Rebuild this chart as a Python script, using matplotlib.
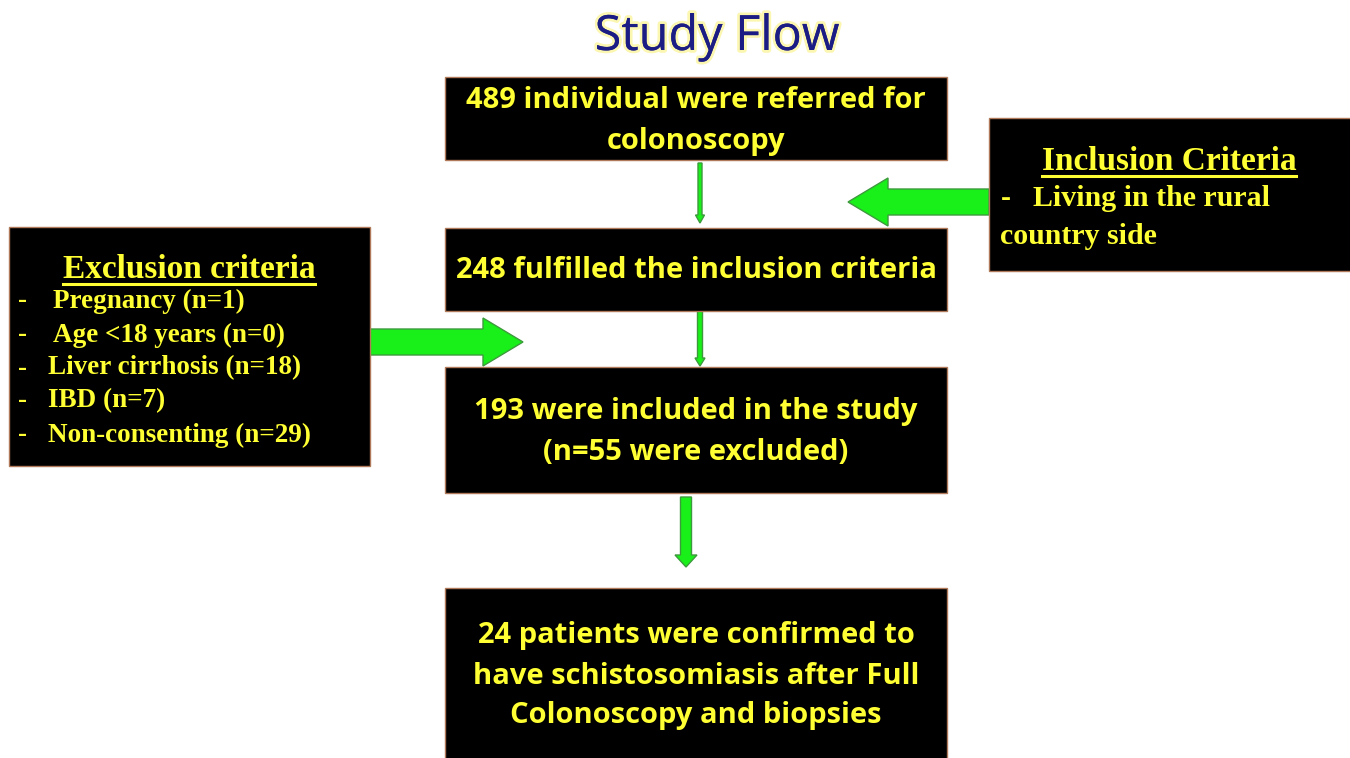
import numpy as np
import matplotlib
matplotlib.use('Agg')
import matplotlib.pyplot as plt
import matplotlib.patheffects as pe
from matplotlib.patches import Rectangle, FancyArrow

# ---- texts ----
TITLE = "Study Flow"
FLOW_TEXTS = ["489 individual were referred for\ncolonoscopy",
              "248 fulfilled the inclusion criteria",
              "193 were included in the study\n(n=55 were excluded)",
              "24 patients were confirmed to\nhave schistosomiasis after Full\nColonoscopy and biopsies"]
EXCL_TITLE = "Exclusion criteria"
EXCL_ITEMS = ["Pregnancy (n=1)", "Age <18 years (n=0)", "Liver cirrhosis (n=18)",
              "IBD (n=7)", "Non-consenting (n=29)"]
INCL_TITLE = "Inclusion Criteria"
INCL_ITEMS = ["Living in the rural", "country side"]

# ---- layout (pixel space, y down) ----
FLOW_BOXES = [(445, 77, 502, 83), (445, 228, 502, 83), (445, 367, 502, 126), (445, 588, 502, 175)]
FLOW_CY = [121, 271, 432, 676]
EXCL_BOX = (9, 227, 361, 239)
INCL_BOX = (989, 118, 365, 153)
EXCL_X = [53, 53, 48, 48, 48]
EXCL_Y = [301, 335, 368, 401, 435]

YELLOW = '#ffff33'
GREEN = '#19f019'
GREEN_EDGE = '#3c9a3c'
EDGE = '#b07a5a'
SERIF = 'Liberation Serif'

fig = plt.figure(figsize=(13.5, 7.58), dpi=100)
ax = fig.add_axes([0, 0, 1, 1])
ax.set_xlim(0, 1350); ax.set_ylim(758, 0); ax.axis('off')

t = ax.text(717, 37, TITLE, ha='center', va='center', fontsize=35, color='#1c1c85',
            family='Open Sans')
t.set_path_effects([pe.withStroke(linewidth=4, foreground='#fbf6b0'), pe.Normal()])

def box(b):
    x, y, w, h = b
    ax.add_patch(Rectangle((x, y), w, h, facecolor='black', edgecolor=EDGE, lw=1.0, zorder=2))

for b, cy, s in zip(FLOW_BOXES, FLOW_CY, FLOW_TEXTS):
    box(b)
    x, y, w, h = b
    ax.text(x + w / 2, cy, s, ha='center', va='center', color=YELLOW, fontsize=21,
            fontweight='bold', family='Open Sans', linespacing=1.5, zorder=3)

box(EXCL_BOX); box(INCL_BOX)

fig.canvas.draw()
r = fig.canvas.get_renderer()

def underlined(xc, y, s, size):
    tt = ax.text(xc, y, s, ha='center', va='baseline', color=YELLOW, fontsize=size,
                 fontweight='bold', family=SERIF, zorder=3)
    bb = tt.get_window_extent(r).transformed(ax.transData.inverted())
    ax.plot([bb.x0, bb.x1], [y + 6, y + 6], color=YELLOW, lw=2.2, zorder=3)

underlined(189, 278, EXCL_TITLE, 24)
for x, y, s in zip(EXCL_X, EXCL_Y, EXCL_ITEMS):
    ax.text(18, y, "-", ha='left', va='center', color=YELLOW, fontsize=19.5,
            fontweight='bold', family=SERIF, zorder=3)
    ax.text(x, y, s, ha='left', va='center', color=YELLOW, fontsize=19.5,
            fontweight='bold', family=SERIF, zorder=3)

underlined(1169, 170, INCL_TITLE, 24)
ax.text(1001, 199, "-", ha='left', va='center', color=YELLOW, fontsize=21.5,
        fontweight='bold', family=SERIF, zorder=3)
ax.text(1033, 199, INCL_ITEMS[0], ha='left', va='center', color=YELLOW, fontsize=21.5,
        fontweight='bold', family=SERIF, zorder=3)
ax.text(1000, 236, INCL_ITEMS[1], ha='left', va='center', color=YELLOW, fontsize=21.5,
        fontweight='bold', family=SERIF, zorder=3)

# ---- arrows ----
def arrow(x, y, dx, dy, w, hw, hl):
    ax.add_patch(FancyArrow(x, y, dx, dy, width=w, head_width=hw, head_length=hl,
                            length_includes_head=True, facecolor=GREEN, edgecolor=GREEN_EDGE,
                            lw=1.0, zorder=1))

arrow(700, 163, 0, 60, 4, 9, 8)
arrow(700, 307, 0, 59, 5, 10, 8)
arrow(686, 497, 0, 70, 11, 22, 12)
arrow(989, 202, -141, 0, 26, 48, 40)
arrow(370, 342, 153, 0, 26, 48, 40)

fig.savefig('out.png', dpi=100, facecolor='white')
